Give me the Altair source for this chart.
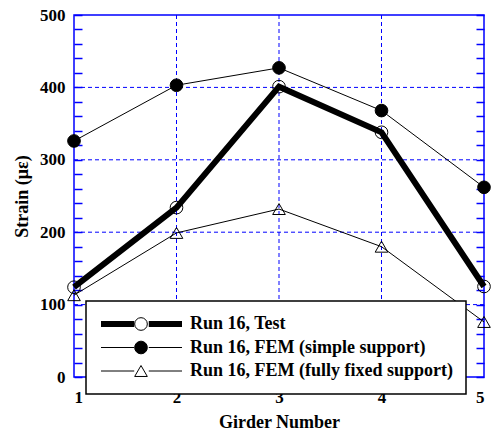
import altair as alt
import pandas as pd

# ---- data ----
girders = [1, 2, 3, 4, 5]
test_vals = [124, 234, 401, 338, 125]
simple_vals = [326, 403, 427, 368, 262]
fixed_vals = [113, 199, 232, 180, 76]
series_names = [
    "Run 16, Test",
    "Run 16, FEM (simple support)",
    "Run 16, FEM (fully fixed support)",
]
y_grid = [100, 200, 300, 400]
x_grid = [2, 3, 4]
y_label_values = [0, 100, 200, 300, 400, 500]
x_label_values = [1, 2, 3, 4, 5]
y_tick_values = list(range(0, 501, 20))

rows = []
for name, vals in zip(series_names, [test_vals, simple_vals, fixed_vals]):
    for g, v in zip(girders, vals):
        rows.append({"girder": g, "strain": v, "sl": name, "sp": name})
df = pd.DataFrame(rows)

W, H = 410, 362
BLUE = "#0000ff"
FONT = "Liberation Serif"

xscale = alt.Scale(domain=[1, 5], nice=False, zero=False)
yscale = alt.Scale(domain=[0, 500], nice=False, zero=False)

grid_y = alt.Chart(pd.DataFrame({"v": y_grid})).mark_rule(
    color=BLUE, strokeDash=[4, 3], strokeWidth=1
).encode(
    y=alt.Y("v:Q", scale=yscale, axis=alt.Axis(
        orient="left", values=y_label_values, title="Strain (με)",
        ticks=False, tickSize=0, domain=False, grid=False,
        labelPadding=9, titlePadding=8, format="d"))
)

grid_x = alt.Chart(pd.DataFrame({"v": x_grid})).mark_rule(
    color=BLUE, strokeDash=[4, 3], strokeWidth=1
).encode(
    x=alt.X("v:Q", scale=xscale, axis=alt.Axis(
        orient="bottom", values=x_label_values, title="Girder Number",
        ticks=False, tickSize=0, domain=False, grid=False,
        labelPadding=12, titlePadding=8, format="d"))
)

common_leg = dict(
    orient="none", legendY=286, title=None, padding=12, clipHeight=22,
    rowPadding=1.5, labelFont=FONT, labelFontSize=18, labelFontWeight="bold",
    labelColor="black", labelLimit=600,
)

lines = alt.Chart(df).mark_line(color="black").encode(
    x=alt.X("girder:Q", scale=xscale, axis=None),
    y=alt.Y("strain:Q", scale=yscale, axis=alt.Axis(
        orient="left", offset=-W, values=y_tick_values, labels=False,
        domain=False, grid=False, ticks=True, tickSize=8, tickColor=BLUE,
        tickWidth=1.5, title=None)),
    strokeWidth=alt.StrokeWidth(
        "sl:O", sort=series_names,
        scale=alt.Scale(type="ordinal", range=[6, 1, 1]),
        legend=alt.Legend(
            legendX=12, symbolType="M-1,0H-0.18M0.18,0H1", symbolSize=6561,
            labelOffset=5, strokeColor="black", fillColor="white",
            symbolStrokeColor="black", zindex=1, **common_leg)),
)

pt_leg = alt.Legend(
    legendX=46, symbolSize=160, symbolStrokeColor="black",
    symbolStrokeWidth=1, symbolOpacity=1, labelExpr="''", zindex=2,
    **common_leg)

points = alt.Chart(df).mark_point(
    filled=True, size=160, strokeWidth=1, opacity=1
).encode(
    x=alt.X("girder:Q", scale=xscale, axis=None),
    y=alt.Y("strain:Q", scale=yscale, axis=alt.Axis(
        orient="right", offset=-W, values=y_tick_values, labels=False,
        domain=False, grid=False, ticks=True, tickSize=8, tickColor=BLUE,
        tickWidth=1.5, title=None)),
    shape=alt.Shape("sp:N", scale=alt.Scale(
        domain=series_names, range=["circle", "circle", "triangle-up"]),
        legend=pt_leg),
    fill=alt.Fill("sp:N", scale=alt.Scale(
        domain=series_names, range=["transparent", "black", "transparent"]),
        legend=pt_leg),
    stroke=alt.Stroke("sp:N", scale=alt.Scale(
        domain=series_names, range=["black", "black", "black"]),
        legend=pt_leg),
)

chart = alt.layer(grid_y, grid_x, lines, points).resolve_axis(
    y="independent", x="independent"
).properties(
    width=W, height=H,
    autosize=alt.AutoSizeParams(type="none"),
    padding={"left": 74, "top": 15, "right": 9, "bottom": 56},
    background="white",
).configure_view(
    stroke=BLUE, strokeWidth=1.5
).configure_axis(
    labelFont=FONT, labelFontSize=17, labelFontWeight="bold", labelColor="black",
    titleFont=FONT, titleFontSize=18, titleFontWeight="bold", titleColor="black",
).configure_legend(
    strokeWidth=1.5
)

chart.save("out.html", embed_options={"renderer": "svg", "actions": False})
